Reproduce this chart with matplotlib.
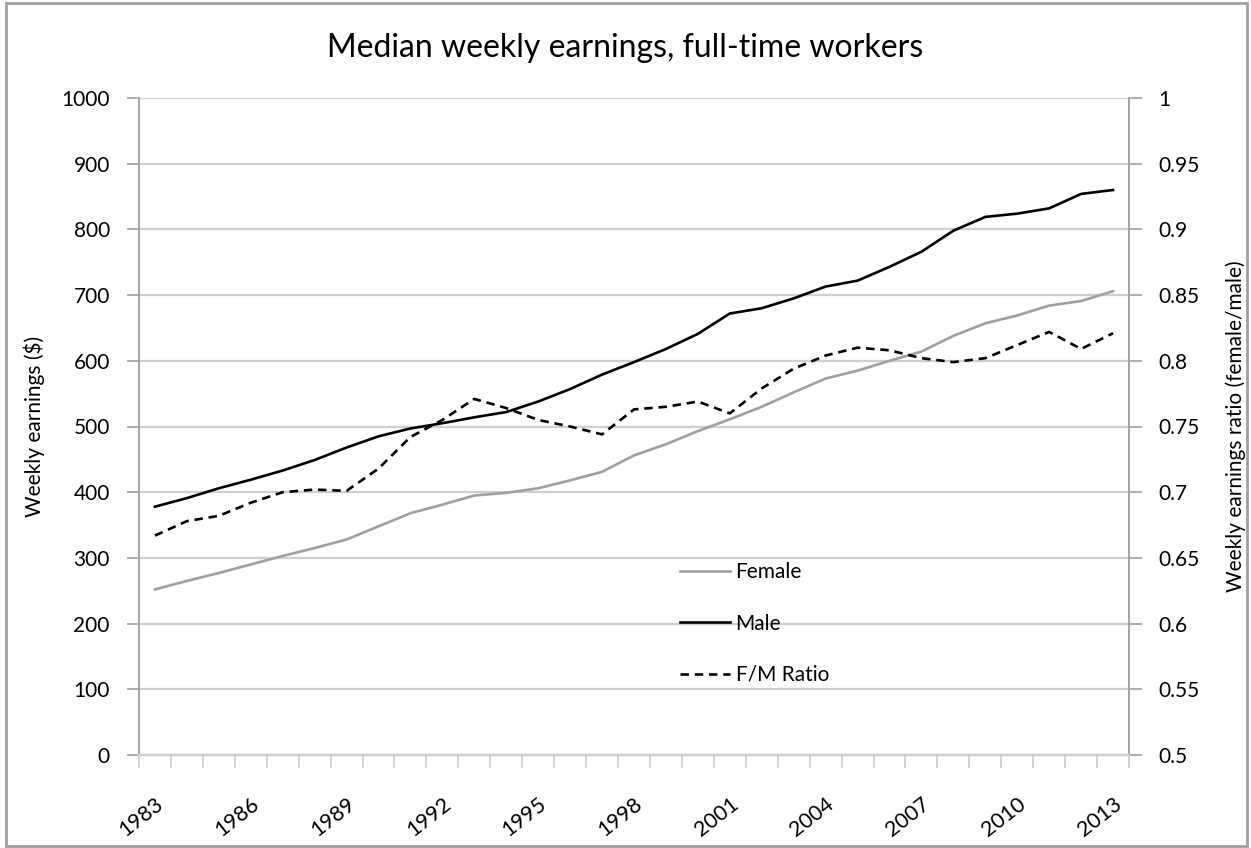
import numpy as np
import matplotlib
matplotlib.use('Agg')
import matplotlib.pyplot as plt
from matplotlib.lines import Line2D
from matplotlib.patches import Rectangle

plt.rcParams['font.family'] = ['Lato', 'DejaVu Sans']

years = list(range(1983, 2014))
female = [252, 265, 277, 290, 303, 315, 328, 348, 368, 381, 395, 399, 406, 418, 431,
          456, 473, 493, 511, 530, 552, 573, 585, 600, 614, 638, 657, 669, 684, 691, 706]
male = [378, 391, 406, 419, 433, 449, 468, 485, 497, 505, 514, 522, 538, 557, 579,
        598, 618, 641, 672, 680, 695, 713, 722, 743, 766, 798, 819, 824, 832, 854, 860]
ratio = [0.667, 0.678, 0.682, 0.692, 0.700, 0.702, 0.701, 0.718, 0.742, 0.755, 0.771,
         0.764, 0.755, 0.750, 0.744, 0.763, 0.765, 0.769, 0.760, 0.779, 0.794, 0.804,
         0.810, 0.808, 0.802, 0.799, 0.802, 0.812, 0.822, 0.809, 0.821]
left_ticks = [0, 100, 200, 300, 400, 500, 600, 700, 800, 900, 1000]
right_ticks = [0.5, 0.55, 0.6, 0.65, 0.7, 0.75, 0.8, 0.85, 0.9, 0.95, 1]

axis_gray = '#a6a6a6'
grid_gray = '#d0d0d0'

fig = plt.figure(figsize=(12.51, 8.48), dpi=100)
ax = fig.add_axes([139/1251, 1 - 755/848, 990/1251, 657/848])
ax2 = ax.twinx()

x = np.arange(len(years))
ax.plot(x, female, color='#a0a0a0', lw=1.9, zorder=3)
ax.plot(x, male, color='black', lw=1.9, zorder=3)
ax2.plot(x, ratio, color='black', lw=1.9, ls=(0, (3.2, 2.2)), zorder=3)

ax.set_xlim(-0.5, len(years) - 0.5)
ax.set_ylim(0, 1000)
ax2.set_ylim(0.5, 1)
ax.set_yticks(left_ticks)
ax.set_yticklabels([str(v) for v in left_ticks])
ax2.set_yticks(right_ticks)
ax2.set_yticklabels(['%g' % v for v in right_ticks])

ax.set_xticks(np.arange(-0.5, len(years)), minor=False)
ax.set_xticklabels([])
ax.set_xticks(x[::3], minor=True)
ax.set_xticklabels([str(y) for y in years[::3]], minor=True, rotation=38,
                   ha='right', rotation_mode='anchor', fontsize=15.5)
ax.tick_params(axis='x', which='major', length=9, width=1.3, color=grid_gray, direction='out')
ax.tick_params(axis='x', which='minor', length=0, pad=28)
ax.tick_params(axis='y', length=9, width=1.3, color=axis_gray, labelsize=15, pad=12)
ax2.tick_params(axis='y', length=9, width=1.3, color=axis_gray, labelsize=15, pad=12)

ax.grid(axis='y', color=grid_gray, lw=1.6)
ax.set_axisbelow(True)
for a in (ax, ax2):
    a.spines['top'].set_visible(False)
    a.spines['left'].set_color(axis_gray)
    a.spines['right'].set_color(axis_gray)
    a.spines['bottom'].set_color(grid_gray)
    a.spines['left'].set_linewidth(1.3)
    a.spines['right'].set_linewidth(1.3)
    a.spines['bottom'].set_linewidth(1.6)

ax.set_ylabel('Weekly earnings ($)', fontsize=15, labelpad=12)
ax2.set_ylabel('Weekly earnings ratio (female/male)', fontsize=15, labelpad=19)
fig.text(0.5, 1 - 48/848, 'Median weekly earnings, full-time workers',
         ha='center', va='center', fontsize=23)

handles = [Line2D([], [], color='#a0a0a0', lw=1.9),
           Line2D([], [], color='black', lw=1.9),
           Line2D([], [], color='black', lw=1.9, ls=(0, (3.2, 2.2)))]
ax2.legend(handles, ['Female', 'Male', 'F/M Ratio'], loc='upper left',
           bbox_to_anchor=(672/1251, 1 - 554/848), bbox_transform=fig.transFigure,
           frameon=False, fontsize=15, handlelength=2.4, handletextpad=0.25,
           labelspacing=1.5, borderaxespad=0)

fig.patches.append(Rectangle((6/1251, 2/848), 1241/1251, 843/848, transform=fig.transFigure,
                             fill=False, edgecolor='#a0a0a0', lw=2))

fig.savefig('out.png', dpi=100)
